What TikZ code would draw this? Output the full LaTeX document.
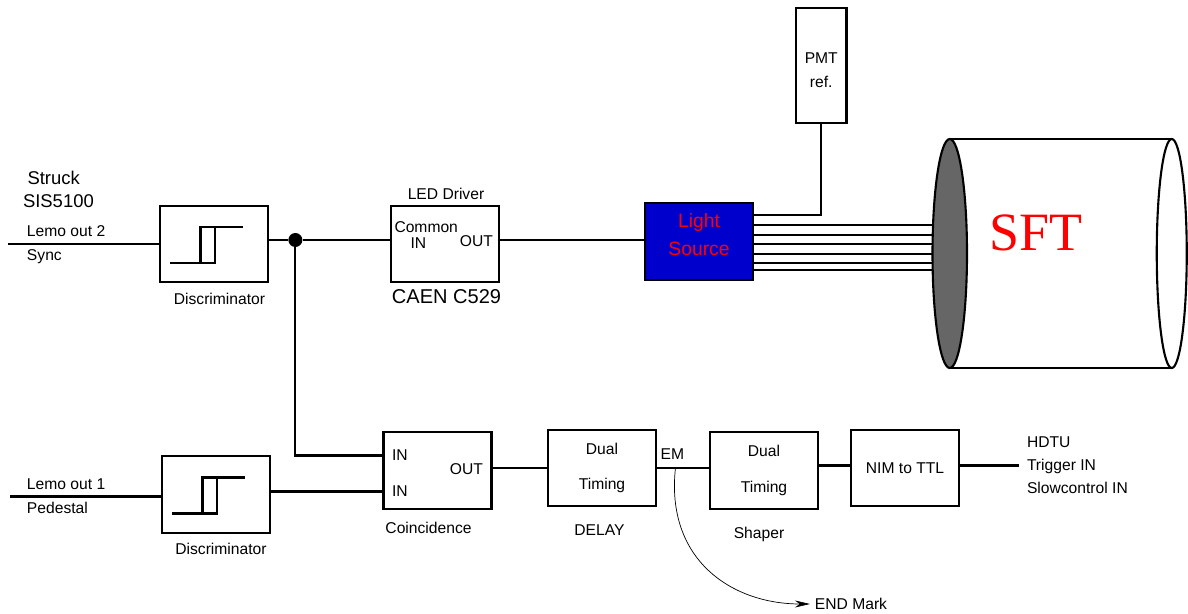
\documentclass[tikz,border=0pt]{standalone}
\usepackage{fontspec}
\setmainfont{Liberation Sans}
\newfontfamily\sftfont{Liberation Serif}
\usetikzlibrary{shapes.geometric,arrows.meta,positioning,backgrounds,calc}
\definecolor{sourceblue}{HTML}{0000CC}
\definecolor{capgray}{HTML}{666666}

\begin{document}
\begin{tikzpicture}[
  font=\fontsize{8.9}{11}\selectfont,
  box/.style={draw,minimum width=2.16cm,minimum height=1.53cm,outer sep=0pt,inner sep=0pt,
              align=center,fill=white,line width=1.2pt},
  twoline/.style={box,font=\fontsize{8.9}{20}\selectfont},
  srcbox/.style={box,fill=sourceblue,text=red,font=\fontsize{11}{16.5}\selectfont},
  pmtbox/.style={box,minimum width=1.01cm,minimum height=2.3cm,font=\fontsize{8.9}{14}\selectfont},
  endcap/.style={draw,ellipse,line width=1.2pt,inner sep=0pt,outer sep=0pt,minimum height=4.58cm},
  wire/.style={line width=1.2pt},
  jctdot/.style={circle,fill=black,minimum size=0.28cm,inner sep=0pt},
  tag/.style={inner sep=0pt,outer sep=0pt},
  bigtag/.style={tag,font=\fontsize{11.4}{13}\selectfont},
  midtag/.style={tag,font=\fontsize{10.5}{13}\selectfont},
  arr/.style={-{Stealth[length=0.3cm,width=0.14cm]},line width=0.4pt},
  stepsym/.pic={
    \draw[wire] (-0.88,-0.38) -- (0.02,-0.38) -- (0.02,0.34) -- (-0.27,0.34) -- (-0.27,-0.38);
    \draw[wire] (0.02,0.34) -- (0.58,0.34);
  },
]
\useasboundingbox (0,0) rectangle (23.76,-12.28);

%% ---- Upper row -------------------------------------------------------------
\node[box] (disc1) at (4.28,-4.88) {};
\node[box, right=2.46cm of disc1] (driver) {};
\node[srcbox, right=2.92cm of driver, yshift=0.05cm] (light) {Light\\Source\rule[-0.28cm]{0pt}{0.28cm}};
\node[pmtbox, above right=1.6cm and 0.86cm of light.north east] (pmt) {\rule{0pt}{0.4cm}PMT\\ref.};

%% ---- Lower row -------------------------------------------------------------
\node[box, below=3.48cm of disc1, xshift=0.04cm] (disc2) {};
\node[box, right=2.27cm of disc2, yshift=0.48cm] (coinc) {};
\node[twoline, right=1.13cm of coinc, yshift=0.05cm] (delay) {Dual\\Timing};
\node[twoline, right=1.08cm of delay, yshift=-0.05cm] (shaper) {Dual\\Timing};
\node[box, right=0.66cm of shaper, yshift=0.05cm] (nim) {NIM to TTL};
\node[tag, inner xsep=0.16cm, align=left, font=\fontsize{8.9}{13}\selectfont,
      right=1.2cm of nim, yshift=0.05cm] (hdtu) {HDTU\\Trigger IN\\Slowcontrol IN};

%% ---- SFT cylinder ----------------------------------------------------------
\node[endcap, minimum width=0.69cm, fill=capgray, right=3.59cm of light, yshift=-0.24cm] (capfront) {};
\coordinate[right=4.44cm of capfront.center] (capbackc);
\node[endcap, minimum width=0.6cm, fill=white] (capback) at (capbackc) {};
\node[tag, font=\sftfont\fontsize{30.7}{32}\selectfont, text=red,
      right=0.44cm of capfront.east, yshift=0.41cm] (sft) {SFT};
\begin{scope}[on background layer]
  \foreach \fibershift in {0.33,0.136,-0.05,-0.244,-0.436,-0.57}
    \draw[wire] ($(light.east)+(0,\fibershift)$) -- ($(light.east -| capfront.center)+(0,\fibershift)$);
\end{scope}
\draw[wire] (capfront.north) -- (capback.north);
\draw[wire] (capfront.south) -- (capback.south);

%% ---- Step symbols ----------------------------------------------------------
\pic at (disc1.center) {stepsym};
\pic at (disc2.center) {stepsym};

%% ---- Arrows: upper path ----------------------------------------------------
\coordinate[left=3.04cm of disc1.west] (syncin);
\node[jctdot, right=0.4cm of disc1.east, yshift=0.08cm] (jct) {};
\draw[wire] (syncin) -- (disc1.west);
\draw[wire] (jct -| disc1.east) -- (jct);
\draw[wire] (jct) -- (jct -| driver.west);
\draw[wire] (jct -| driver.east) -- (jct -| light.west);
\draw[wire] (pmt.south) |- ($(light.east)+(0,0.53)$);

%% ---- Arrows: lower path ----------------------------------------------------
\coordinate[left=3.04cm of disc2.west, yshift=-0.04cm] (pedin);
\coordinate[left=0cm of coinc.west, yshift=0.3cm] (coincup);
\coordinate[right=0cm of disc2.east, yshift=0.06cm] (disc2out);
\draw[wire] (pedin) -- (pedin -| disc2.west);
\draw[wire] (jct) |- (coincup);
\draw[wire] (disc2out) -- (disc2out -| coinc.west);
\draw[wire] (delay.west -| coinc.east) -- (delay.west);
\draw[wire] (delay.east) -- (delay.east -| shaper.west);
\draw[wire] (hdtu.west -| shaper.east) -- (hdtu.west -| nim.west);
\draw[wire] (hdtu.west -| nim.east) -- (hdtu.west);

%% ---- END Mark branch -------------------------------------------------------
\coordinate (emtap) at ($(delay.east)!0.36!(delay.east -| shaper.west)$);
\node[tag, anchor=west, inner xsep=0.1cm] (endmark) at ($(emtap)+(2.69,-2.72)$) {END Mark};
\draw[arr] (emtap) .. controls +(-0.2,-1.84) and +(-1.56,0) .. (endmark.west);
\node[tag, above=0.18cm of emtap, xshift=-0.06cm] (em) {EM};

%% ---- Labels ----------------------------------------------------------------
\node[tag, above right=0.14cm and 0.38cm of syncin] (lemo2) {Lemo out 2};
\node[tag, below right=0.12cm and 0.38cm of syncin] (sync) {Sync};
\node[midtag, above right=0.36cm and -0.08cm of lemo2.north west] (sis) {SIS5100};
\node[midtag, above right=0.21cm and 0.09cm of sis.north west] (struck) {Struck};
\node[tag, below=0.21cm of disc1, xshift=0.11cm] (disc1lab) {Discriminator};
\node[tag, above=0.12cm of driver, xshift=0.02cm] (driverlab) {LED Driver};
\node[bigtag, below=0.15cm of driver, xshift=0.03cm] (caen) {CAEN C529};
\node[tag, right=0.07cm of driver.west, yshift=0.34cm] (common) {Common};
\node[tag, right=0.39cm of driver.west, yshift=0.02cm] (commonin) {IN};
\node[tag, left=0.12cm of driver.east, yshift=0.066cm] (driverout) {OUT};

\node[tag, above right=0.14cm and 0.34cm of pedin] (lemo1) {Lemo out 1};
\node[tag, below right=0.12cm and 0.34cm of pedin] (pedestal) {Pedestal};
\node[tag, below=0.21cm of disc2, xshift=0.1cm] (disc2lab) {Discriminator};
\node[tag, right=0.17cm of coinc.west, yshift=0.3cm] (coincina) {IN};
\node[tag, right=0.17cm of coinc.west, yshift=-0.42cm] (coincinb) {IN};
\node[tag, left=0.17cm of coinc.east, yshift=0.02cm] (coincout) {OUT};
\node[tag, below=0.26cm of coinc, xshift=-0.18cm] (coinclab) {Coincidence};
\node[tag, below=0.36cm of delay, xshift=-0.05cm] (delaylab) {DELAY};
\node[tag, below=0.37cm of shaper, xshift=-0.1cm] (shaperlab) {Shaper};

\end{tikzpicture}
\end{document}
